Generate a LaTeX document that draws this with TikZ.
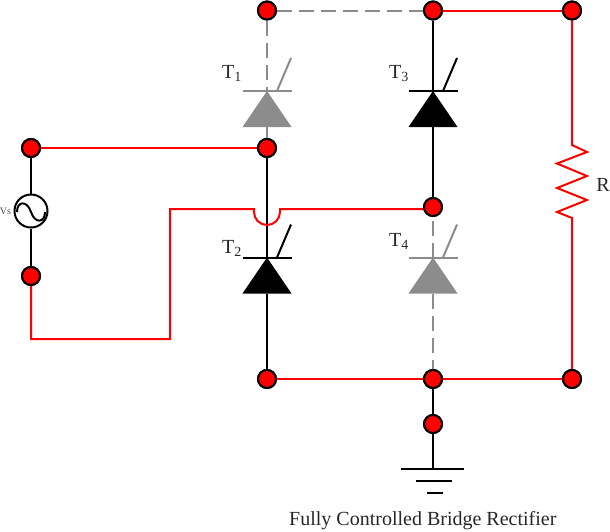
\documentclass[tikz,border=0pt]{standalone}
\usepackage{fontspec}
\setmainfont{Liberation Serif}
\newcommand{\thyr}[4]{% name, x, y of bar, colour
  \coordinate (#1k) at (#2,#3);
  \coordinate (#1a) at (#2,#3+36);
  \fill[#4] (#2,#3) -- (#2-24.5,#3+36) -- (#2+24.5,#3+36) -- cycle;
  \draw[#4,wire] (#2-24.5,#3) -- (#2+24.5,#3);
  \draw[#4,wire] (#2+10,#3) -- (#2+24,#3-33);
}
\definecolor{offgray}{gray}{0.55}
\definecolor{termred}{rgb}{1,0,0}
\tikzset{
  wire/.style={line width=2pt},
  redwire/.style={wire,draw=termred},
  blackwire/.style={wire,draw=black},
  graywire/.style={wire,draw=offgray},
  dashwire/.style={graywire,dash pattern=on 15pt off 7pt},
  term/.style={circle,draw=black,line width=2pt,fill=termred,minimum size=18pt,inner sep=0pt},
  lab/.style={text=black!85,font=\fontsize{20}{22}\selectfont,inner sep=0pt},
}
\begin{document}
\begin{tikzpicture}[x=1pt,y=-1pt]
\useasboundingbox (0,0) rectangle (610,531);
% terminals
\path (267,10.5) node[term,name=n1] {};
\path (433,10.5) node[term,name=n2] {};
\path (572,10.5) node[term,name=n3] {};
\path (31,148) node[term,name=n4] {};
\path (267,148) node[term,name=n5] {};
\path (31,276) node[term,name=n6] {};
\path (433,207) node[term,name=n7] {};
\path (267,379) node[term,name=n8] {};
\path (433,379) node[term,name=n9] {};
\path (572,379) node[term,name=n10] {};
\path (433,424) node[term,name=n11] {};
\path (31,211) node[circle,draw=black,line width=2pt,minimum size=33pt,inner sep=0pt,name=vs] {};
\coordinate (g1) at (433,469);
\coordinate (c1) at (170,339);
\coordinate (c2) at (31,339);
\coordinate (c3) at (170,209);
\coordinate (j1) at (254,209);
\coordinate (j2) at (280,209);
\coordinate (r1) at (572,145);
\coordinate (r2) at (572,218);
% thyristors
\thyr{ta}{267}{91}{offgray}
\thyr{tb}{433}{91}{black}
\thyr{tc}{267}{257.5}{black}
\thyr{td}{433}{257.5}{offgray}
% wires
\draw[dashwire] (n1) -- (n2);
\draw[dashwire] (n1) -- (tak);
\draw[graywire] (taa) -- (n5);
\draw[blackwire] (n5) -- (tck);
\draw[blackwire] (tca) -- (n8);
\draw[blackwire] (n2) -- (tbk);
\draw[blackwire] (tba) -- (n7);
\draw[dashwire] (tdk) -- (n7);
\draw[dashwire] (tda) -- (n9);
\draw[blackwire] (n9) -- (n11);
\draw[blackwire] (n11) -- (g1);
\draw[blackwire] (n4) -- (vs);
\draw[blackwire] (vs) -- (n6);
\draw[redwire] (n4) -- (n5);
\draw[redwire] (n2) -- (n3);
\draw[redwire] (n3) -- (r1) -- (587,152) -- (557,163.5) -- (587,176) -- (557,188) -- (587,200) -- (557,212) -- (r2) -- (n10);
\draw[redwire] (n8) -- (n9);
\draw[redwire] (n9) -- (n10);
\draw[redwire] (n6) -- (c2) -- (c1) -- (c3) -- (j1) -- ++(0,3) arc[start angle=180,end angle=360,x radius=13pt,y radius=13pt] -- (j2) -- (j2 -| n7);
% terminals again, above the wires
\foreach \p/\q in {267/10.5,433/10.5,572/10.5,31/148,267/148,31/276,433/207,267/379,433/379,572/379,433/424}
  \node[term] at (\p,\q) {};
% ground
\draw[blackwire] (401,469) -- (464,469);
\draw[blackwire] (416,481) -- (452,481);
\draw[blackwire] (427,493) -- (443,493);
% source symbol
\draw[blackwire] (17,212) .. controls (17,201) and (27,200) .. (31,212) .. controls (35,224) and (45,223) .. (45,212);
% labels
\node[lab,anchor=base west,name=l1] at (222,78) {T\textsubscript{1}};
\node[lab,anchor=base west,name=l3] at (389,78) {T\textsubscript{3}};
\node[lab,anchor=base west,name=l2] at (222,253) {T\textsubscript{2}};
\node[lab,anchor=base west,name=l4] at (389,246) {T\textsubscript{4}};
\node[lab,anchor=base,name=lr] at (603,191) {R};
\node[text=black!70,font=\fontsize{10}{11}\selectfont,inner sep=0pt,name=lv] at (5.5,211) {Vs};
\node[lab,anchor=base west,name=cap] at (289,525.5) {Fully Controlled Bridge Rectifier};
\end{tikzpicture}
\end{document}
